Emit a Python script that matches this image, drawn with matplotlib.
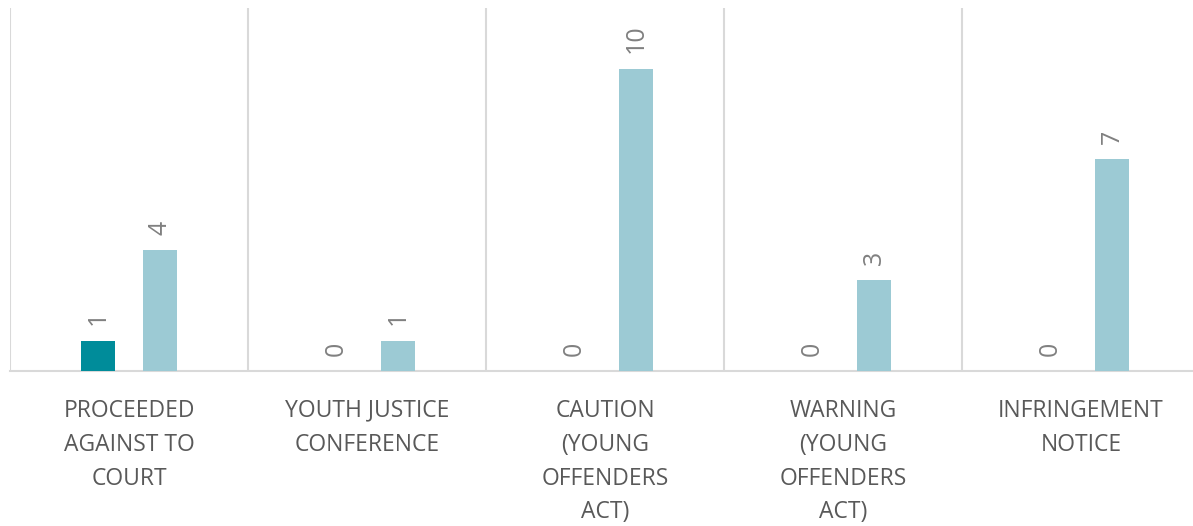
import textwrap

import numpy as np
from matplotlib import pyplot as plt

categories = ["PROCEEDED AGAINST TO COURT", "YOUTH JUSTICE CONFERENCE",
              "CAUTION (YOUNG OFFENDERS ACT)", "WARNING (YOUNG OFFENDERS ACT)",
              "INFRINGEMENT NOTICE"]
series_a = [1, 0, 0, 0, 0]
series_b = [4, 1, 10, 3, 7]

plt.rcParams["font.family"] = ["Open Sans", "DejaVu Sans"]

fig = plt.figure(figsize=(11.93, 5.26), dpi=100)
ax = fig.add_axes([10 / 1193, 155 / 526, 1190 / 1193, 363 / 526])

x = np.arange(len(categories))
width = 0.14
offset = 0.13

bars_a = ax.bar(x - offset, series_a, width, color="#008C9A", zorder=3)
bars_b = ax.bar(x + offset, series_b, width, color="#9CCAD4", zorder=3)

# value labels, rotated like the source
for bars in (bars_a, bars_b):
    for rect in bars:
        h = rect.get_height()
        ax.annotate(f"{h:g}", (rect.get_x() + rect.get_width() / 2, h),
                    xytext=(0, 11), textcoords="offset points",
                    rotation=90, ha="center", va="bottom",
                    fontsize=18, color="#808080")

ax.set_xlim(-0.5, len(categories) - 0.5)
ax.set_ylim(0, 12)

# category separators
for b in np.arange(-0.5, len(categories), 1.0):
    ax.axvline(b, color="#D9D9D9", lw=1.5, zorder=1)

ax.set_yticks([])
ax.set_xticks(x)
ax.set_xticklabels([textwrap.fill(c, 13) for c in categories],
                   fontsize=16.5, color="#595959", linespacing=1.55)
ax.tick_params(axis="x", length=0, pad=20)

for side in ("top", "right", "left"):
    ax.spines[side].set_visible(False)
ax.spines["bottom"].set_color("#D9D9D9")
ax.spines["bottom"].set_linewidth(1.5)

plt.savefig("out.png", dpi=100)
